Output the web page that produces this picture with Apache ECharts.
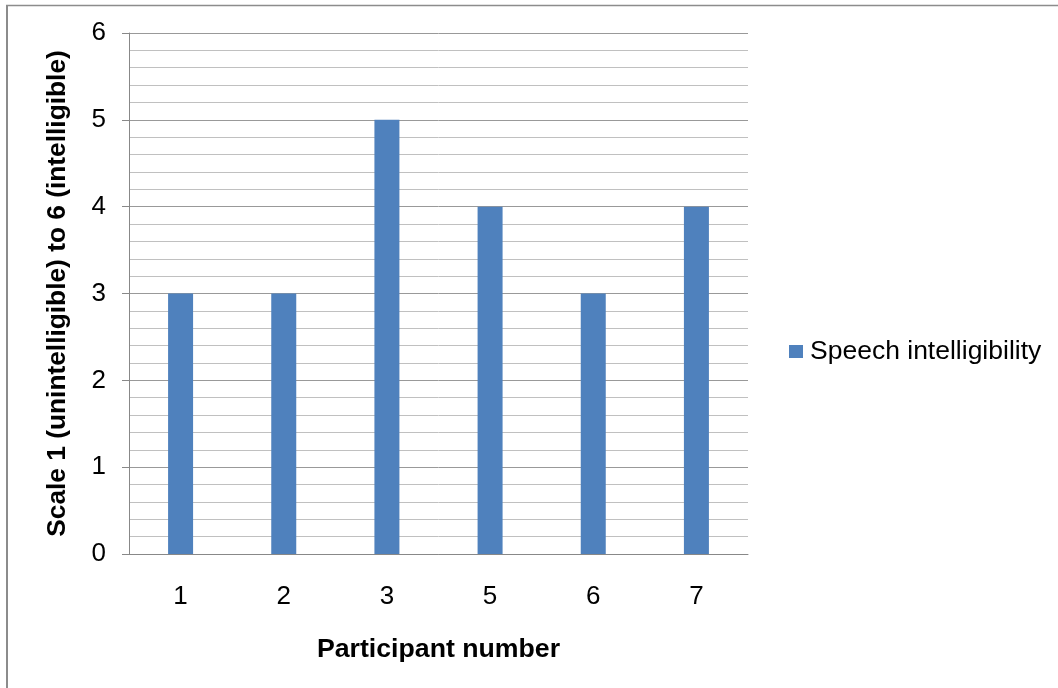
<!DOCTYPE html>
<html>
<head>
<meta charset="utf-8">
<script src="https://cdn.jsdelivr.net/npm/echarts@6/dist/echarts.min.js"></script>
<style>
html,body{margin:0;padding:0;background:#fff;}
#chart{width:1058px;height:688px;}
</style>
</head>
<body>
<div id="chart"></div>
<script>
const categories = ['1', '2', '3', '5', '6', '7'];
const speechIntelligibility = [3, 3, 5, 4, 3, 4];
const seriesName = 'Speech intelligibility';
const xAxisTitle = 'Participant number';
const yAxisTitle = 'Scale 1 (unintelligible) to 6 (intelligible)';

const chart = echarts.init(document.getElementById('chart'), null, {renderer: 'canvas'});
const font = 'Liberation Sans, Arial, sans-serif';
chart.setOption({
  animation: false,
  backgroundColor: '#fff',
  textStyle: {fontFamily: font},
  graphic: [
    {type: 'line', shape: {x1: 7, y1: 5, x2: 7, y2: 688}, style: {stroke: '#8c8c8c', lineWidth: 2}},
    {type: 'line', shape: {x1: 6, y1: 5.5, x2: 1058, y2: 5.5}, style: {stroke: '#8c8c8c', lineWidth: 1.5}}
  ],
  grid: {left: 129, right: 310, top: 33, bottom: 134, containLabel: false},
  legend: {
    data: [seriesName],
    left: 789, top: 338,
    padding: 0,
    orient: 'vertical',
    itemWidth: 14, itemHeight: 13, itemGap: 7,
    icon: 'rect',
    textStyle: {fontSize: 26.5, color: '#000', fontFamily: font, padding: [0, 0, 0, 2]}
  },
  xAxis: {
    type: 'category',
    data: categories,
    name: xAxisTitle,
    nameLocation: 'middle',
    nameGap: 82,
    nameTextStyle: {fontSize: 26.7, fontWeight: 'bold', color: '#000', fontFamily: font},
    axisLine: {lineStyle: {color: '#888', width: 1}},
    axisTick: {show: false},
    axisLabel: {fontSize: 26, color: '#000', margin: 30, fontFamily: font},
    splitLine: {show: false}
  },
  yAxis: {
    type: 'value',
    min: 0, max: 6, interval: 1,
    name: yAxisTitle,
    nameLocation: 'middle',
    nameGap: 58,
    nameTextStyle: {fontSize: 26.3, fontWeight: 'bold', color: '#000', fontFamily: font},
    axisLine: {show: true, lineStyle: {color: '#888', width: 1}},
    axisTick: {show: true, length: 7, lineStyle: {color: '#888'}},
    axisLabel: {fontSize: 26, color: '#000', margin: 23, fontFamily: font},
    splitLine: {show: true, lineStyle: {color: '#999', width: 1}},
    minorTick: {show: false, splitNumber: 5},
    minorSplitLine: {show: true, lineStyle: {color: '#c0c0c0', width: 1}}
  },
  series: [{
    name: seriesName,
    type: 'bar',
    data: speechIntelligibility,
    barWidth: 25,
    itemStyle: {color: '#4F81BD'}
  }]
});
</script>
</body>
</html>
